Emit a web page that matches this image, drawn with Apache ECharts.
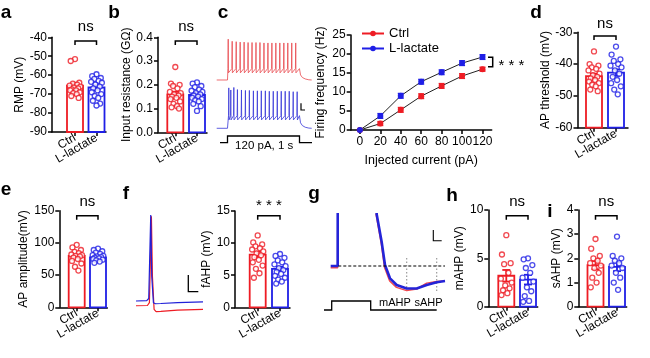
<!DOCTYPE html>
<html><head><meta charset="utf-8">
<script src="https://cdn.jsdelivr.net/npm/echarts@6/dist/echarts.min.js"></script>
<style>html,body{margin:0;padding:0;background:#fff}#chart{width:650px;height:358px}</style>
</head><body><div id="chart"></div>
<script>
const RED = '#ee1c24', BLUE = '#1f1fe6';
const FONT = '"Liberation Sans", Arial, Helvetica, sans-serif';

const groups = ['Ctrl', 'L-lactate'];

// a: RMP (mV)
const rmpCtrl = [-51.5, -52.5, -64, -64.5, -65, -65.5, -66, -66.5, -67, -67.5, -68, -68, -69, -69.5, -70, -71, -72];
const rmpLac = [-59.5, -60.5, -61.5, -62, -63, -63.5, -64, -65, -66, -67, -68, -69, -70, -71, -72, -73.5, -75, -76];
const rmpMean = [-65.5, -66.5];
const rmpSem = [1.4, 1.2];

// b: Input resistance (GΩ)
const resCtrl = [0.275, 0.205, 0.2, 0.195, 0.185, 0.17, 0.165, 0.16, 0.155, 0.15, 0.145, 0.14, 0.13, 0.12, 0.11, 0.105, 0.1];
const resLac = [0.21, 0.205, 0.195, 0.19, 0.18, 0.175, 0.17, 0.165, 0.16, 0.155, 0.15, 0.145, 0.14, 0.135, 0.13, 0.12, 0.11, 0.09];
const resMean = [0.16, 0.157];
const resSem = [0.011, 0.008];

// c: firing frequency vs injected current
const currents = [0, 20, 40, 60, 80, 100, 120];
const freqCtrl = [0, 1.7, 5.3, 8.9, 11.6, 14.2, 16.0];
const freqLac = [0, 3.7, 9.0, 12.7, 15.2, 17.6, 19.2];
const freqSemCtrl = [0, 0.5, 0.6, 0.6, 0.6, 0.6, 0.5];
const freqSemLac = [0, 0.6, 0.6, 0.6, 0.6, 0.6, 0.6];

// c: example traces (ms, mV)
const cRedSpikeT = [10, 65, 121, 176, 231, 286, 341, 396, 451, 507, 562, 617, 672, 727, 783, 838, 893, 948];
const cRedSpikePeak = [27, 22, 21, 20, 20, 19, 19, 19, 19, 18, 18, 18, 18, 18, 18, 18, 18, 18];
const cBlueSpikeT = [18, 46, 88, 138, 194, 249, 304, 360, 415, 470, 526, 581, 636, 692, 747, 802, 858, 913, 968];
const cBlueSpikePeak = [26, 21, 27, 22, 21, 20, 20, 19, 19, 19, 19, 18, 18, 18, 18, 18, 18, 17, 17];
const cRedLevels = [-70, -53, -43];   // rest, AHP, threshold
const cBlueLevels = [-70, -50, -40];
const cPostT = [1000, 1015, 1040, 1080, 1130, 1170];
const cRedPost = [-43, -58, -64, -67.5, -69.5, -70];
const cBluePost = [-40, -57, -63.5, -67.5, -69.5, -70];

// d: AP threshold (mV)
const thrCtrl = [-36, -40, -40.5, -41, -41.5, -42, -43, -43.5, -44, -44.5, -45, -45.5, -46, -46.5, -47, -48, -48.5];
const thrLac = [-34.5, -37, -38.5, -39, -40, -40.5, -41, -42, -43, -44, -45, -46, -47, -48, -49.5];
const thrMean = [-43.8, -42.7];
const thrSem = [0.8, 1.0];

// e: AP amplitude (mV)
const ampCtrl = [97, 93, 89, 86, 84, 82, 81, 80, 79, 77, 75, 72, 68, 63, 57];
const ampLac = [91, 89, 87, 85, 83, 81, 80, 79, 78, 77, 76, 75, 74, 73, 71, 69];
const ampMean = [80, 77.5];
const ampSem = [2.5, 1.5];

// f: single spike traces (ms, mV)
const fRedT = [-22, -5, -2, 1, 2.5, 5, 8, 15, 40, 78];
const fRedV = [-65.7, -65.4, -62, 42, -30, -70, -72.9, -72.6, -71, -70];
const fBlueT = [-22, -6, -3, 0, 1.5, 4, 7, 15, 40, 78];
const fBlueV = [-60, -59.6, -57, 43.6, -30, -62, -63.3, -63, -62, -61];

// f: fAHP (mV)
const fahpCtrl = [11.2, 10.1, 9.8, 9.5, 9.2, 9.0, 8.7, 8.4, 8.1, 7.8, 7.4, 7.0, 6.5, 6.0, 5.3, 4.6];
const fahpLac = [8.3, 8.0, 7.7, 7.3, 7.0, 6.7, 6.4, 6.1, 5.8, 5.5, 5.2, 4.9, 4.6, 4.3, 4.0, 3.7];
const fahpMean = [8.2, 6.0];
const fahpSem = [0.45, 0.3];

// g: AHP traces (ms, mV)
const gBlueT = [-25, 150, 152, 160, 1100, 1125, 1250, 1333, 1458, 1625, 1875, 2125, 2375, 2625, 2833];
const gBlueV = [-60, -60, -45, 0, 0, -50.3, -55.5, -59.8, -62.3, -63.55, -64.2, -64.2, -63.55, -63.05, -62.8];
const gRedT = [-25, 150, 152, 160, 1090, 1110, 1240, 1320, 1450, 1620, 1875, 2125, 2375, 2625, 2833];
const gRedV = [-60.3, -60.3, -45, 0, 0, -50.3, -55.8, -60.2, -62.8, -64.0, -64.6, -64.3, -63.2, -62.9, -62.8];
const gBaseT = [165, 2833];
const gBaseV = [-60, -60];
const gMarkT = [1875, 2625];
const gMarkV = [-58.5, -64.8];

// h: mAHP (mV)
const mahpCtrl = [7.4, 5.4, 4.5, 4.4, 3.5, 2.9, 2.5, 2.2, 1.9, 1.7, 1.4, 1.2];
const mahpLac = [5.0, 4.9, 4.3, 4.0, 3.5, 3.0, 2.6, 2.0, 1.6, 1.1, 0.6, 0.5];
const mahpMean = [3.2, 2.8];
const mahpSem = [0.6, 0.5];

// i: sAHP (mV)
const sahpCtrl = [2.8, 2.4, 2.1, 2.0, 1.9, 1.8, 1.7, 1.6, 1.4, 1.2, 1.0, 0.8];
const sahpLac = [2.9, 2.1, 2.0, 1.9, 1.8, 1.7, 1.6, 1.4, 1.2, 1.0, 0.7];
const sahpMean = [1.72, 1.65];
const sahpSem = [0.17, 0.18];

// ---------------- build ----------------
const grids = [], xAxes = [], yAxes = [], series = [], graphics = [];
const axLine = {show: true, onZero: false, lineStyle: {color: '#000', width: 1.5}};
const axTick = {show: true, length: 4, lineStyle: {color: '#000', width: 1.5}};
const lblStyle = {fontSize: 12, color: '#000', fontFamily: FONT};

function addGrid(left, top, right, bottom) {
  grids.push({left: left, top: top, width: right - left, height: bottom - top});
  return grids.length - 1;
}
function addX(ax) { xAxes.push(ax); return xAxes.length - 1; }
function addY(ax) { yAxes.push(ax); return yAxes.length - 1; }
function hiddenAxes(gi, xmin, xmax, ymin, ymax) {
  return [addX({gridIndex: gi, type: 'value', min: xmin, max: xmax, show: false}),
          addY({gridIndex: gi, type: 'value', min: ymin, max: ymax, show: false})];
}
function pairs(ts, vs) { return ts.map((t, i) => [t, vs[i]]); }
function trace(ax, data, color, width, extra) {
  series.push(Object.assign({type: 'line', xAxisIndex: ax[0], yAxisIndex: ax[1], data: data, showSymbol: false, symbol: 'none',
    clip: true, silent: true, lineStyle: {color: color, width: width}, z: 2}, extra || {}));
}
function text(str, x, y, size, opts) {
  graphics.push({type: 'text', x: x, y: y, silent: true, z: 100, style: Object.assign({text: str, fontSize: size, fontFamily: FONT, fill: '#000',
    align: 'center', verticalAlign: 'middle', textAlign: 'center', textVerticalAlign: 'middle'}, opts || {})});
}
function poly(points, opts) {
  graphics.push({type: 'polyline', silent: true, z: 100, shape: {points: points}, style: Object.assign({stroke: '#000', lineWidth: 1.5, fill: null}, opts || {})});
}

const JIT = [0, -0.2, 0.2, -0.1, 0.1, -0.25, 0.25, -0.05, 0.15, -0.15, 0.05, -0.22, 0.22, -0.08, 0.08, -0.17, 0.17, 0.0];

function barPanel(p) {
  const gi = addGrid(p.left, p.top, p.right, p.bottom);
  const u = p.c2 - p.c1;
  const xmin = 1 - (p.c1 - p.left) / u, xmax = 2 + (p.right - p.c2) / u;
  const xi = addX({gridIndex: gi, type: 'value', min: xmin, max: xmax, position: 'bottom', axisLine: axLine,
    axisTick: Object.assign({customValues: [1, 2]}, axTick),
    axisLabel: Object.assign({customValues: [1], formatter: v => groups[Math.round(v) - 1], rotate: 30, margin: 5}, lblStyle),
    splitLine: {show: false}});
  addX({gridIndex: gi, type: 'value', min: xmin, max: xmax, position: 'bottom', offset: 0,
    axisLine: {show: false}, axisTick: {show: false},
    axisLabel: Object.assign({customValues: [2], formatter: v => groups[Math.round(v) - 1], rotate: 30, margin: 5}, lblStyle),
    splitLine: {show: false}});
  const yi = addY({gridIndex: gi, type: 'value', min: p.ymin, max: p.ymax, interval: p.step,
    name: p.name, nameLocation: 'middle', nameGap: p.nameGap, nameTextStyle: lblStyle,
    axisLine: axLine, axisTick: axTick,
    axisLabel: Object.assign({margin: 5, formatter: p.fmt || (v => String(v))}, lblStyle),
    splitLine: {show: false}});
  const ymin = p.ymin;
  series.push({type: 'custom', xAxisIndex: xi, yAxisIndex: yi, silent: true, z: 2,
    data: [[1, p.mean[0], p.sem[0], 0], [2, p.mean[1], p.sem[1], 1]],
    renderItem: (params, api) => {
      const x = api.value(0), m = api.value(1), s = api.value(2), col = api.value(3) ? BLUE : RED;
      const base = api.coord([x, ymin]), top = api.coord([x, m]);
      const hi = api.coord([x, m + s]), lo = api.coord([x, m - s]);
      const hw = 8, cw = 4, st = {stroke: col, lineWidth: 1.8};
      return {type: 'group', children: [
        {type: 'rect', shape: {x: base[0] - hw, y: top[1], width: 2 * hw, height: base[1] - top[1]}, style: {fill: '#fff', stroke: col, lineWidth: 1.8}},
        {type: 'line', shape: {x1: hi[0], y1: hi[1], x2: lo[0], y2: lo[1]}, style: st},
        {type: 'line', shape: {x1: hi[0] - cw, y1: hi[1], x2: hi[0] + cw, y2: hi[1]}, style: st},
        {type: 'line', shape: {x1: lo[0] - cw, y1: lo[1], x2: lo[0] + cw, y2: lo[1]}, style: st}
      ]};
    }});
  [0, 1].forEach(k => {
    series.push({type: 'scatter', xAxisIndex: xi, yAxisIndex: yi, silent: true, z: 3, symbol: 'circle', symbolSize: 5,
      itemStyle: {color: '#fff', borderColor: k ? BLUE : RED, borderWidth: 1.3},
      data: p.vals[k].map((v, i) => [k + 1 + JIT[i % JIT.length], v])});
  });
  const mid = (p.c1 + p.c2) / 2;
  if (p.sig === 'ns') text('ns', mid, p.sigY - 1.5, 15);
  else text('* * *', mid, p.sigY + 3, 15);
  poly([[p.c1, p.brY + 4], [p.c1, p.brY], [p.c2, p.brY], [p.c2, p.brY + 4]]);
}

const panels = [
  {vals: [rmpCtrl, rmpLac], mean: rmpMean, sem: rmpSem, name: 'RMP (mV)', ymin: -90, ymax: -40, step: 10,
   left: 52, right: 106, c1: 75, c2: 96.5, top: 37.3, bottom: 132, nameGap: 26, sig: 'ns', sigY: 28.3, brY: 41},
  {vals: [resCtrl, resLac], mean: resMean, sem: resSem, name: 'Input resistance (GΩ)', ymin: 0, ymax: 0.4, step: 0.1,
   fmt: v => v.toFixed(1), left: 158, right: 207, c1: 175.3, c2: 197, top: 37.3, bottom: 132.3, nameGap: 17, sig: 'ns', sigY: 28.3, brY: 41},
  {vals: [thrCtrl, thrLac], mean: thrMean, sem: thrSem, name: 'AP threshold (mV)', ymin: -60, ymax: -30, step: 10,
   left: 577.5, right: 628, c1: 594, c2: 616, top: 32.3, bottom: 127.7, nameGap: 26, sig: 'ns', sigY: 25, brY: 36},
  {vals: [ampCtrl, ampLac], mean: ampMean, sem: ampSem, name: 'AP amplitude(mV)', ymin: 0, ymax: 150, step: 50,
   left: 59.3, right: 107.3, c1: 76.7, c2: 98, top: 210.7, bottom: 307.3, nameGap: 30, sig: 'ns', sigY: 203.3, brY: 215.7},
  {vals: [fahpCtrl, fahpLac], mean: fahpMean, sem: fahpSem, name: 'fAHP (mV)', ymin: 0, ymax: 15, step: 5,
   left: 235, right: 290, c1: 257.7, c2: 280, top: 211, bottom: 307.3, nameGap: 13, sig: '***', sigY: 203.3, brY: 215.7},
  {vals: [mahpCtrl, mahpLac], mean: mahpMean, sem: mahpSem, name: 'mAHP (mV)', ymin: 0, ymax: 10, step: 5,
   left: 488.3, right: 537.7, c1: 506.3, c2: 528, top: 210, bottom: 306.7, nameGap: 22, sig: 'ns', sigY: 203.3, brY: 215.7},
  {vals: [sahpCtrl, sahpLac], mean: sahpMean, sem: sahpSem, name: 'sAHP (mV)', ymin: 0, ymax: 4, step: 1,
   left: 578.3, right: 626.7, c1: 595.5, c2: 617, top: 210, bottom: 306.7, nameGap: 16, sig: 'ns', sigY: 203.3, brY: 215.7}
];
panels.forEach(barPanel);

// ---- c: spike train traces ----
function spikeTrain(times, peaks, lv, postT, postV) {
  const pts = [[-150, lv[0]], [0, lv[0]], [times[0] - 4, lv[2]]];
  times.forEach((t, i) => {
    pts.push([t, peaks[i]]);
    pts.push([t + 3, lv[1]]);
    const nxt = i < times.length - 1 ? times[i + 1] - 4 : postT[0];
    pts.push([nxt, lv[2]]);
  });
  postT.forEach((t, i) => { if (i > 0) pts.push([t, postV[i]]); });
  return pts;
}
const gcr = hiddenAxes(addGrid(216.7, 37.9, 311.7, 82.1), -150, 1170, -75, 30);
trace(gcr, spikeTrain(cRedSpikeT, cRedSpikePeak, cRedLevels, cPostT, cRedPost), '#e8484c', 0.8);
const gcb = hiddenAxes(addGrid(216.7, 86.2, 311.7, 130.4), -150, 1170, -75, 30);
trace(gcb, spikeTrain(cBlueSpikeT, cBlueSpikePeak, cBlueLevels, cPostT, cBluePost), '#3636d8', 0.8);

// ---- c: f-I curve ----
const gci = addGrid(350.7, 35, 491.7, 130);
const cxi = addX({gridIndex: gci, type: 'value', min: -9, max: 129, name: 'Injected current (pA)', nameLocation: 'middle', nameGap: 24,
  nameTextStyle: Object.assign({}, lblStyle, {fontSize: 12.5}),
  axisLine: axLine, axisTick: Object.assign({customValues: currents}, axTick),
  axisLabel: Object.assign({customValues: currents, margin: 6}, lblStyle), splitLine: {show: false}});
const cyi = addY({gridIndex: gci, type: 'value', min: 0, max: 25, interval: 5, name: 'Firing frequency (Hz)', nameLocation: 'middle', nameGap: 24,
  nameTextStyle: lblStyle, axisLine: axLine, axisTick: axTick, axisLabel: Object.assign({margin: 5}, lblStyle), splitLine: {show: false}});
[[freqCtrl, freqSemCtrl, RED, 'Ctrl'], [freqLac, freqSemLac, BLUE, 'L-lactate']].forEach(([vals, sems, col, nm]) => {
  series.push({type: 'custom', xAxisIndex: cxi, yAxisIndex: cyi, silent: true, z: 3,
    data: currents.map((c, i) => [c, vals[i], sems[i]]),
    renderItem: (params, api) => {
      const x = api.value(0), m = api.value(1), s = api.value(2);
      const hi = api.coord([x, m + s]), lo = api.coord([x, m - s]), st = {stroke: col, lineWidth: 1.5};
      return {type: 'group', children: [
        {type: 'line', shape: {x1: hi[0], y1: hi[1], x2: lo[0], y2: lo[1]}, style: st},
        {type: 'line', shape: {x1: hi[0] - 3, y1: hi[1], x2: hi[0] + 3, y2: hi[1]}, style: st},
        {type: 'line', shape: {x1: lo[0] - 3, y1: lo[1], x2: lo[0] + 3, y2: lo[1]}, style: st}
      ]};
    }});
  series.push({type: 'line', name: nm, xAxisIndex: cxi, yAxisIndex: cyi, z: 2, symbol: 'circle', symbolSize: 6, showSymbol: true,
    data: currents.map((c, i) => [c, vals[i]]), lineStyle: {color: '#222', width: 1}, itemStyle: {color: col}});
});

// ---- f: spike overlay ----
const gfT = hiddenAxes(addGrid(136, 209.7, 203, 317.6), -22, 78, -80, 50);
trace(gfT, pairs(fRedT, fRedV), RED, 1.2);
trace(gfT, pairs(fBlueT, fBlueV), '#2020d8', 1.2);

// ---- g: AHP traces ----
const gg = hiddenAxes(addGrid(324, 214.3, 445, 300.2), -192, 2833, -66.4, -50.3);
trace(gg, pairs(gRedT, gRedV), '#f04a50', 1.5);
trace(gg, pairs(gBlueT, gBlueV), '#2424d8', 2.6, {z: 3});
trace(gg, pairs(gBaseT, gBaseV), '#000', 1.1, {lineStyle: {color: '#000', width: 1.1, type: [3, 2]}, z: 4});
gMarkT.forEach(t => trace(gg, [[t, gMarkV[0]], [t, gMarkV[1]]], '#999', 1.2, {lineStyle: {color: '#9a9a9a', width: 1.2, type: [1.5, 2]}, z: 1}));

// ---- annotations ----
[['a', 6, 13], ['b', 114, 12.5], ['c', 223, 13], ['d', 536, 13], ['e', 6, 190], ['f', 126, 194], ['g', 314, 194], ['h', 452, 196], ['i', 550, 212]]
  .forEach(([s, x, y]) => text(s, x, y, 19, {fontWeight: 'bold'}));
poly([[220, 142.7], [227.5, 142.7], [227.5, 136], [299.5, 136], [299.5, 142.7], [312, 142.7]], {lineWidth: 1.3});
text('120 pA, 1 s', 264.2, 146, 11.5);
poly([[301, 103.3], [301, 110], [305, 110]], {lineWidth: 1.2});
poly([[488, 57.3], [492.7, 57.3], [492.7, 66.7], [488, 66.7]], {lineWidth: 1.5});
text('* * *', 511.5, 66, 15);
poly([[188.3, 275], [188.3, 291.7], [198.3, 291.7]], {lineWidth: 1.3});
poly([[324, 310], [331.7, 310], [331.7, 301], [370.7, 301], [370.7, 310], [436.7, 310]], {lineWidth: 1.3});
poly([[433.3, 230], [433.3, 240.7], [441.7, 240.7]], {lineWidth: 1.1});
text('mAHP', 395, 303.3, 11);
text('sAHP', 428.5, 303.3, 11);

const chart = echarts.init(document.getElementById('chart'), null, {renderer: 'canvas'});
chart.setOption({
  animation: false,
  backgroundColor: '#fff',
  textStyle: {fontFamily: FONT},
  grid: grids, xAxis: xAxes, yAxis: yAxes, series: series,
  legend: {show: true, orient: 'vertical', left: 356, top: 22, itemWidth: 22, itemHeight: 7, itemGap: 2,
    textStyle: {fontSize: 13, color: '#000', fontFamily: FONT},
    data: [{name: 'Ctrl', itemStyle: {color: RED}, lineStyle: {color: RED}},
           {name: 'L-lactate', itemStyle: {color: BLUE}, lineStyle: {color: BLUE}}]},
  graphic: graphics
});
</script></body></html>
